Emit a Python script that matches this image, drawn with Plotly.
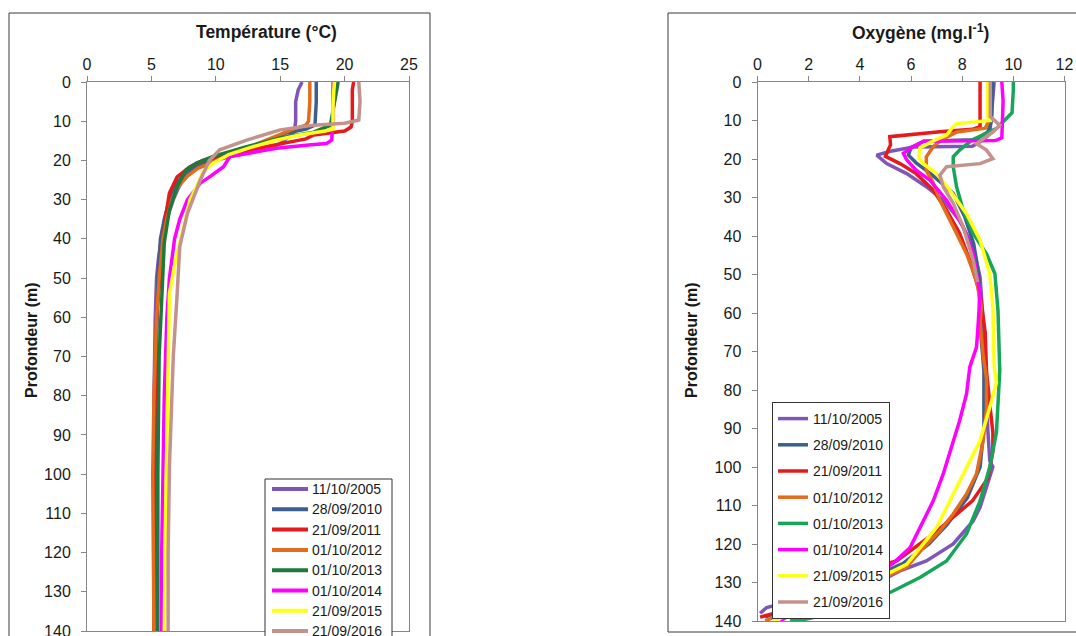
import plotly.graph_objects as go

W, H = 1076, 636

dates = ["11/10/2005", "28/09/2010", "21/09/2011", "01/10/2012",
         "01/10/2013", "01/10/2014", "21/09/2015", "21/09/2016"]
temp_colors = ["#7F56B8", "#3D5F8F", "#E41A1C", "#E36C1B",
               "#1D7A3A", "#FF00FF", "#FFFF1A", "#C4928C"]
oxy_colors = ["#7F56B8", "#3D5F8F", "#E41A1C", "#E36C1B",
              "#17A55A", "#FF00FF", "#FFFF1A", "#C4928C"]

temp_ticks = [0, 5, 10, 15, 20, 25]
oxy_ticks = [0, 2, 4, 6, 8, 10, 12]
depth_ticks = list(range(0, 141, 10))

# ---------------- Temperature profiles (depth m, °C) ----------------
t05_d = [0, 2, 5, 10, 12.7, 14, 15.5, 17, 18, 19, 20, 21, 22, 24, 27, 30, 35, 40, 45, 50, 60, 80, 100, 120, 140]
t05_v = [16.7, 16.4, 16.2, 16.2, 16.1, 15.6, 15.1, 14.2, 12.6, 11.1, 10.0, 9.0, 8.2, 7.6, 7.1, 6.7, 6.2, 5.8, 5.55, 5.4, 5.3, 5.2, 5.2, 5.2, 5.2]

t10_d = [0, 5, 11, 12, 13, 15, 17, 19, 21, 23, 26, 30, 35, 40, 50, 70, 100, 140]
t10_v = [17.8, 17.8, 17.7, 17.0, 15.5, 14.0, 12.5, 10.5, 8.8, 7.7, 6.9, 6.4, 6.0, 5.7, 5.5, 5.4, 5.4, 5.4]

t11_d = [0, 2, 10, 11.5, 12.5, 13, 13.5, 14.5, 16, 17, 18, 19, 20, 21.6, 24.2, 28.3, 34.4, 41, 49.7, 60, 80, 100, 140]
t11_v = [20.7, 20.6, 20.6, 20.5, 20.0, 18.5, 17.6, 17.0, 14.5, 13.0, 11.5, 10.2, 9.0, 8.0, 7.0, 6.4, 6.1, 5.9, 5.7, 5.4, 5.3, 5.2, 5.2]

t12_d = [0, 5, 10, 11, 12, 14, 16, 18, 20, 22, 24, 27, 30, 35, 40, 50, 60, 80, 100, 120, 140]
t12_v = [17.3, 17.3, 17.2, 17.0, 16.0, 14.5, 13.0, 11.5, 10.0, 8.6, 7.8, 7.0, 6.6, 6.2, 5.9, 5.6, 5.4, 5.2, 5.1, 5.15, 5.2]

t13_d = [0, 5, 11, 12.8, 14.3, 16.5, 19, 20.7, 22.4, 26.7, 32.6, 41, 54, 70, 100, 140]
t13_v = [19.5, 19.2, 18.9, 17.6, 15.0, 12.4, 9.8, 8.5, 7.7, 7.0, 6.4, 6.0, 5.8, 5.6, 5.5, 5.5]

t14_d = [0, 10, 14.8, 15.7, 16.0, 16.5, 16.9, 19, 21.6, 24, 25.8, 28.3, 30, 35, 40, 50, 60, 80, 100, 120, 140]
t14_v = [19.1, 19.1, 19.0, 18.6, 17.4, 16.0, 14.7, 11.1, 10.6, 9.6, 8.8, 8.2, 7.8, 7.2, 6.8, 6.4, 6.2, 6.0, 5.9, 5.8, 5.8]

t15_d = [0, 6, 12, 12.5, 13.5, 15, 16.5, 18.5, 20.7, 23, 26.7, 30, 37, 45, 54, 70, 90, 110, 140]
t15_v = [19.2, 19.1, 19.1, 18.5, 16.5, 14.5, 12.9, 11.0, 9.8, 9.0, 8.5, 8.0, 7.5, 6.9, 6.4, 6.3, 6.2, 6.1, 6.0]

t16_d = [0, 5, 9.7, 10.5, 11, 12.2, 14.8, 17.3, 20, 25, 33.5, 42, 54, 70, 98, 120, 140]
t16_v = [21.1, 21.2, 21.1, 20.0, 17.6, 15.0, 12.4, 10.3, 9.5, 8.8, 7.8, 7.2, 7.0, 6.7, 6.4, 6.3, 6.3]

# ---------------- Oxygen profiles (depth m, mg/l) ----------------
o05_d = [0, 5, 10, 12, 14, 15.5, 16.7, 16.9, 18, 19, 21.2, 23.8, 27.2, 30.7, 35.9, 42.9, 50.7, 60, 70, 78.6, 90, 98.4, 100, 105.3, 110.5, 114, 120, 124.4, 127, 129.6, 132, 134, 136.5, 138]
o05_v = [9.25, 9.2, 9.15, 9.1, 9.0, 8.7, 8.4, 6.1, 5.2, 4.66, 5.05, 5.83, 6.6, 7.26, 7.9, 8.43, 8.7, 8.8, 8.85, 8.95, 9.0, 9.08, 9.2, 8.95, 8.7, 8.43, 7.65, 6.6, 5.57, 4.8, 3.0, 1.8, 0.36, 0.1]

o10_d = [0, 10, 13, 15, 15.4, 17, 19, 21, 24, 28.9, 35, 42, 50, 63, 75, 90, 100, 108, 115, 120, 125, 130, 135, 139]
o10_v = [9.2, 9.15, 9.0, 8.5, 6.5, 6.0, 5.9, 6.2, 6.8, 7.65, 8.1, 8.45, 8.65, 8.7, 8.85, 8.85, 8.7, 8.2, 7.4, 6.7, 5.7, 4.0, 1.8, 0.3]

o11_d = [0, 11.6, 12.3, 12.9, 14.2, 16.3, 19.3, 21.2, 23.8, 28.1, 33.3, 39.3, 46.3, 55, 65, 75, 85, 91, 96, 103, 108.8, 117.4, 124.4, 127, 131, 135, 137.4, 139]
o11_v = [8.7, 8.7, 8.4, 7.13, 5.17, 5.2, 5.0, 5.57, 6.2, 6.87, 7.39, 7.9, 8.3, 8.7, 8.9, 8.95, 9.1, 9.2, 9.2, 9.0, 8.4, 6.87, 5.44, 4.0, 2.5, 1.3, 1.0, 0.1]

o12_d = [0, 10, 12, 13, 15, 16.8, 19.4, 23, 26, 30.7, 37.6, 44.6, 51.5, 58.5, 62.5, 71, 77, 85, 93.2, 101.8, 107, 112.2, 116.6, 121, 126, 130, 134, 137, 140]
o12_v = [9.1, 9.05, 8.9, 7.8, 7.2, 6.87, 6.6, 6.6, 6.85, 7.13, 7.65, 8.17, 8.56, 8.75, 8.7, 8.82, 8.95, 8.95, 8.82, 8.56, 8.17, 7.65, 7.13, 6.48, 5.83, 4.5, 2.7, 1.3, 0.3]

o13_d = [0, 2, 8, 9, 10.6, 12, 13.3, 15, 17.7, 19.4, 22, 27.2, 33.3, 39.3, 44.6, 49.8, 59.3, 75, 91, 100, 108.8, 117.4, 124.4, 128.7, 132.2, 136.5, 139.5, 140]
o13_v = [10.0, 10.0, 9.95, 9.8, 9.6, 9.35, 8.95, 8.4, 7.9, 7.65, 7.65, 7.78, 8.04, 8.43, 8.95, 9.28, 9.4, 9.47, 9.34, 9.08, 8.7, 8.17, 7.39, 6.35, 5.3, 3.87, 1.92, 1.27]

o14_d = [0, 5, 14.5, 15.2, 15.4, 16.8, 18.5, 20.2, 22.9, 25.5, 30.7, 37.6, 44.6, 55, 65.4, 68.9, 74, 81, 88, 93.2, 101.8, 108.8, 115.7, 121, 125, 129, 133, 137, 140]
o14_v = [9.55, 9.6, 9.55, 9.3, 6.5, 6.08, 5.7, 5.83, 6.2, 6.74, 7.39, 8.04, 8.43, 8.7, 8.6, 8.56, 8.3, 8.17, 7.9, 7.65, 7.26, 6.87, 6.35, 5.96, 5.3, 4.3, 3.0, 1.6, 0.9]

o15_d = [0, 9, 10, 10.8, 12, 13.8, 15.3, 17.1, 19.7, 21.2, 23.8, 28.1, 34.2, 41.1, 49.8, 58.5, 74, 78, 84.5, 93.2, 98.4, 105.3, 110.5, 115.7, 121, 125.3, 129, 133, 137, 140]
o15_v = [9.0, 9.0, 9.08, 7.78, 7.6, 7.39, 6.87, 6.35, 6.3, 6.48, 7.0, 7.52, 8.17, 8.7, 9.08, 9.2, 9.25, 9.34, 9.08, 8.7, 8.3, 7.78, 7.39, 7.0, 6.35, 5.83, 4.7, 3.3, 1.8, 0.6]

o16_d = [0, 9, 11.2, 13, 16, 17.7, 19.9, 21.2, 22, 24.2, 27.2, 31.5, 37.6, 46.3, 52]
o16_v = [9.1, 9.1, 9.47, 9.2, 8.56, 8.95, 9.2, 8.7, 7.39, 7.13, 7.26, 7.65, 8.04, 8.43, 8.6]

temp_series = [(t05_d, t05_v), (t10_d, t10_v), (t11_d, t11_v), (t12_d, t12_v),
               (t13_d, t13_v), (t14_d, t14_v), (t15_d, t15_v), (t16_d, t16_v)]
oxy_series = [(o05_d, o05_v), (o10_d, o10_v), (o11_d, o11_v), (o12_d, o12_v),
              (o13_d, o13_v), (o14_d, o14_v), (o15_d, o15_v), (o16_d, o16_v)]

FONT = "Arial, Liberation Sans, sans-serif"
AX = "#868686"
TXT = "#1a1a1a"


def px(x):
    return x / W


def py(y):
    return 1 - y / H


fig = go.Figure()

for i, (d, v) in enumerate(temp_series):
    fig.add_trace(go.Scatter(x=v, y=d, mode="lines", name=dates[i],
                             line=dict(color=temp_colors[i], width=3.5),
                             xaxis="x", yaxis="y", showlegend=False))

for i, (d, v) in enumerate(oxy_series):
    fig.add_trace(go.Scatter(x=v, y=d, mode="lines", name=dates[i],
                             line=dict(color=oxy_colors[i], width=3.5),
                             xaxis="x2", yaxis="y2", legend="legend2",
                             legendgroup="o%d" % i, showlegend=True))

axis_common = dict(showline=True, linecolor=AX, linewidth=1, mirror=True,
                   ticks="outside", ticklen=5, tickcolor=AX, tickwidth=1,
                   showgrid=False, zeroline=False, ticklabeloverflow="allow",
                   tickfont=dict(family=FONT, size=16, color=TXT))

fig.update_layout(
    width=W, height=H,
    margin=dict(l=0, r=0, t=0, b=0, autoexpand=False),
    paper_bgcolor="white", plot_bgcolor="white",
    font=dict(family=FONT, color=TXT),
    xaxis=dict(domain=[px(87), px(409)], range=[0, 25], side="top",
               tickvals=temp_ticks, anchor="y", **axis_common),
    yaxis=dict(domain=[py(631), py(82)], range=[140, 0], tickvals=depth_ticks,
               anchor="x", ticklabelstandoff=7, **axis_common),
    xaxis2=dict(domain=[px(757.5), px(1064.5)], range=[0, 12], side="top",
                tickvals=oxy_ticks, anchor="y2", **axis_common),
    yaxis2=dict(domain=[py(621), py(82)], range=[140, 0], tickvals=depth_ticks,
                anchor="x2", ticklabelstandoff=7, **axis_common),
    legend2=dict(x=px(772), y=py(402), xanchor="left", yanchor="top",
                 bgcolor="white", bordercolor="#333333", borderwidth=1,
                 font=dict(family=FONT, size=14, color=TXT),
                 traceorder="grouped", tracegroupgap=5),
    showlegend=True,
)

# chart frames
fig.add_shape(type="rect", xref="paper", yref="paper",
              x0=px(9), x1=px(430), y0=py(700), y1=py(13),
              line=dict(color="#3a3a3a", width=1), layer="below")
fig.add_shape(type="rect", xref="paper", yref="paper",
              x0=px(668), x1=px(1085), y0=py(632), y1=py(13),
              line=dict(color="#3a3a3a", width=1), layer="below")

# titles
fig.add_annotation(text="<b>Température (°C)</b>", x=px(266.5), y=py(32),
                   xref="paper", yref="paper", showarrow=False,
                   xanchor="center", yanchor="middle",
                   font=dict(family=FONT, size=17.5, color=TXT))
fig.add_annotation(text="<b>Oxygène (mg.l<sup>-1</sup>)</b>", x=px(920), y=py(32),
                   xref="paper", yref="paper", showarrow=False,
                   xanchor="center", yanchor="middle",
                   font=dict(family=FONT, size=17.5, color=TXT))
for xc in (31, 691):
    fig.add_annotation(text="<b>Profondeur (m)</b>", x=px(xc), y=py(340),
                       xref="paper", yref="paper", showarrow=False, textangle=-90,
                       xanchor="center", yanchor="middle",
                       font=dict(family=FONT, size=16, color=TXT))

# manual legend for the temperature chart (box runs past the bottom edge)
lx0, lx1, ltop, step = 265, 392, 479, 20.3
fig.add_shape(type="rect", xref="paper", yref="paper",
              x0=px(lx0), x1=px(lx1), y0=py(700), y1=py(ltop),
              line=dict(color="#333333", width=1), fillcolor="white", layer="above")
for i, name in enumerate(dates):
    yy = ltop + 10 + i * step
    fig.add_shape(type="line", xref="paper", yref="paper",
                  x0=px(272), x1=px(308), y0=py(yy), y1=py(yy),
                  line=dict(color=temp_colors[i], width=4), layer="above")
    fig.add_annotation(text=name, x=px(310), y=py(yy), xref="paper", yref="paper",
                       xanchor="left", yanchor="middle", showarrow=False,
                       font=dict(family=FONT, size=14, color=TXT))

fig.write_html("out.html", config={"displayModeBar": False},
               post_script="document.body.style.margin='0';document.body.style.overflow='hidden';")
